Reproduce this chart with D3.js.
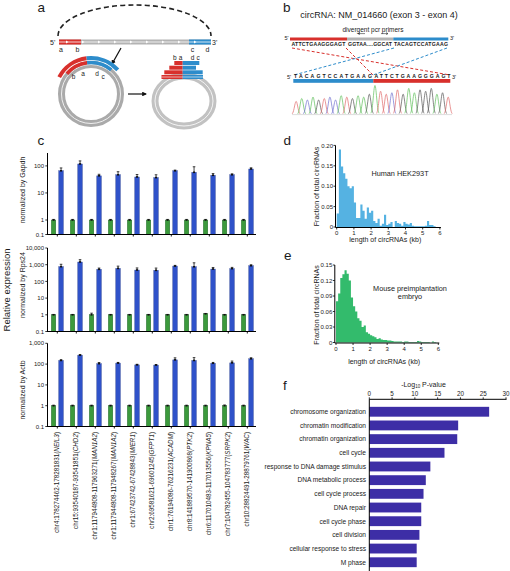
<!DOCTYPE html>
<html><head><meta charset="utf-8">
<script src="https://cdn.jsdelivr.net/npm/d3@7"></script>
<style>body{margin:0;background:#fff}svg{display:block}text{font-family:"Liberation Sans",Arial,sans-serif;fill:#1a1a1a}</style>
</head><body><svg id="c" width="510" height="571"></svg>
<script>
// ---------------- DATA ----------------
const loci = ["chr4:178274462-178281831","chr15:93540187-93541851","chr1:117944808-117963271","chr1:117944808-117948267","chr1:67423742-67428843","chr2:69581621-69601245","chr1:76194086-76216231","chr8:141889570-141900868","chr6:117010483-117013556","chr7:104782455-104783777","chr10:28824491-28879761"];
const genes = ["NEIL3","CHD2","MAN1A2","MAN1A2","MIER1","GFPT1","ACADM","PTK2","KPNA5","SRPK2","WAC"];
const gapdhCtrl = [1,1,1,1,1,1,1,1,1,1,1];
const gapdhCtrlErr = [0.05,0.05,0.05,0.05,0.05,0.05,0.05,0.05,0.05,0.05,0.05];
const gapdhCirc = [66,118,43,47,39,37,66,58,45,47,77];
const gapdhCircErr = [18,35,6,14,9,10,4,35,7,4,8];
const rps24Ctrl = [1,1,1,1,1,1,1,1,1.15,1,1];
const rps24CtrlErr = [0.05,0.05,0.25,0.05,0.05,0.05,0.05,0.05,0.05,0.05,0.05];
const rps24Circ = [760,1450,530,600,480,460,830,750,550,580,870];
const rps24CircErr = [300,550,100,220,160,170,80,550,130,110,120];
const actbCtrl = [1,1,1,1,1,1,1,1,1,1,1];
const actbCtrlErr = [0.05,0.05,0.05,0.05,0.05,0.05,0.05,0.05,0.05,0.08,0.05];
const actbCirc = [150,270,105,112,92,90,160,150,110,115,180];
const actbCircErr = [12,15,14,8,6,5,40,55,10,25,22];
const gapdhTicks = [0.1,1,10,100];
const rps24Ticks = [0.1,1,10,100,1000,10000];
const actbTicks = [0.1,1,10,100,1000];

const binWidth = 0.125;
const hekFraction = [0.033,0.19,0.148,0.132,0.118,0.10,0.095,0.10,0.06,0.022,0.022,0.055,0.04,0.02,0.048,0.035,0.04,0.015,0.01,0.02,0.003,0.008,0.03,0.005,0.008,0.012,0,0.015,0.01,0.008,0.003,0.012,0.008,0.006,0.01,0.003,0.002,0.002,0.002,0.002,0.002,0.003,0.015,0.005,0.005,0.002,0,0];
const mouseFraction = [0.08,0.095,0.125,0.132,0.14,0.133,0.12,0.087,0.07,0.06,0.047,0.042,0.03,0.033,0.02,0.017,0.014,0.012,0.01,0.007,0.008,0.006,0.005,0.005,0.004,0.004,0.003,0.002,0.002,0.002,0.002,0.001,0.002,0.002,0.001,0.001,0.001,0.001,0.003,0.002,0.001,0.001,0.001,0.001,0,0.002,0.001,0];
const hekTicksY = [0,0.05,0.10,0.15,0.20];
const mouseTicksY = [0,0.03,0.06,0.09,0.12,0.15];
const lengthTicks = [0,1,2,3,4,5,6];

const goTerms = ["chromosome organization","chromatin modification","chromatin organization","cell cycle","response to DNA damage stimulus","DNA metabolic process","cell cycle process","DNA repair","cell cycle phase","cell division","cellular response to stress","M phase"];
const goNegLogP = [26.3,19.5,19.3,16.5,13.4,12.4,11.9,11.4,11.4,11.0,10.4,10.4];
const goTicks = [0,5,10,15,20,25,30];

const seqBases = "TACAGTCCATGAAGATTCTGAAGGGAGT";
const seqPeaks = [0.45,0.55,0.5,0.6,0.5,0.55,0.6,0.5,0.65,0.6,0.55,0.65,0.6,0.7,1.0,0.8,0.7,0.75,0.85,0.7,0.9,0.75,0.85,0.8,0.9,0.7,0.75,0.6];

// ---------------- DRAW ----------------
const svg = d3.select("#c");
svg.append("rect").attr("width",510).attr("height",571).attr("fill","#fff");
const RED="#d8302c", BLUE="#2d8ccb", GRAY="#b3b3b3";

function txt(g,x,y,s,size,anchor){
  return g.append("text").attr("x",x).attr("y",y).attr("font-size",size).attr("text-anchor",anchor||"start").attr("fill","#1a1a1a").text(s);
}
// panel letters
[["a",37.5,11.5],["b",283,12],["c",37.5,145],["d",283.5,145],["e",284,259.5],["f",283,390]].forEach(d=>txt(svg,d[1],d[2],d[0],13.5));

// ---------- Panel a ----------
const ga = svg.append("g");
ga.append("path").attr("d","M58,36 A76.5,31 0 0 1 211,36").attr("fill","none").attr("stroke","#222").attr("stroke-width",1.6).attr("stroke-dasharray","5,3.2");
ga.append("rect").attr("x",59).attr("y",39.5).attr("width",152).attr("height",5).attr("fill",GRAY);
ga.append("rect").attr("x",59).attr("y",39.5).attr("width",22).attr("height",5).attr("fill",RED);
ga.append("rect").attr("x",189).attr("y",39.5).attr("width",22).attr("height",5).attr("fill",BLUE);
ga.append("line").attr("x1",59).attr("x2",211).attr("y1",42).attr("y2",42).attr("stroke","#fff").attr("stroke-width",0.8);
for(let x=66;x<210;x+=16){ga.append("path").attr("d",`M${x},40.6 L${x+2.5},42 L${x},43.4Z`).attr("fill","#fff");}
txt(ga,50,44.5,"5'",7); txt(ga,212,44.5,"3'",7);
[["a",61],["b",77.5],["c",192.5],["d",207.5]].forEach(d=>txt(ga,d[1],52,d[0],7,"middle"));
const defs=svg.append("defs");
defs.append("marker").attr("id","ah").attr("viewBox","0 0 10 10").attr("refX",8).attr("refY",5).attr("markerWidth",4).attr("markerHeight",4).attr("orient","auto")
  .append("path").attr("d","M0,0 L10,5 L0,10Z").attr("fill","#111");
ga.append("line").attr("x1",121).attr("y1",48).attr("x2",112).attr("y2",64).attr("stroke","#111").attr("stroke-width",1.2).attr("marker-end","url(#ah)");
ga.append("line").attr("x1",128).attr("y1",94).attr("x2",146).attr("y2",94).attr("stroke","#111").attr("stroke-width",1.2).attr("marker-end","url(#ah)");
// left circle
const cx1=91, cy1=94;
ga.append("circle").attr("cx",cx1).attr("cy",cy1).attr("r",29.5).attr("fill","none").attr("stroke","#aaa").attr("stroke-width",7);
ga.append("circle").attr("cx",cx1).attr("cy",cy1).attr("r",29.5).attr("fill","none").attr("stroke","#fff").attr("stroke-width",0.8);
const arc=d3.arc();
const deg=Math.PI/180;
[[36,4,-62,-7,RED],[36,4,-7,48,BLUE],[31.5,3.6,-50,-7,RED],[31.5,3.6,-7,40,BLUE]].forEach(a=>{
  ga.append("path").attr("transform",`translate(${cx1},${cy1})`).attr("d",arc({innerRadius:a[0]-a[1]/2,outerRadius:a[0]+a[1]/2,startAngle:a[2]*deg,endAngle:a[3]*deg})).attr("fill",a[4]);
});
[["b",73.5,79],["a",83,75.5],["d",97,75.5],["c",103,79]].forEach(d=>txt(ga,d[1],d[2],d[0],6.5,"middle"));
// right circle
const cx2=184, cy2=101;
ga.append("ellipse").attr("cx",cx2).attr("cy",cy2).attr("rx",29).attr("ry",25).attr("fill","none").attr("stroke","#c2c2c2").attr("stroke-width",7);
ga.append("ellipse").attr("cx",cx2).attr("cy",cy2).attr("rx",29).attr("ry",25).attr("fill","none").attr("stroke","#fff").attr("stroke-width",0.8);
[[61,174.3,199.3],[65.7,169.3,196],[70.3,164.3,202.7],[75,161.5,203]].forEach(r=>{
  ga.append("rect").attr("x",r[1]).attr("y",r[0]).attr("width",182.7-r[1]).attr("height",4).attr("fill",RED);
  ga.append("rect").attr("x",182.7).attr("y",r[0]).attr("width",r[2]-182.7).attr("height",4).attr("fill",BLUE);
});
ga.append("line").attr("x1",161.5).attr("x2",203).attr("y1",77).attr("y2",77).attr("stroke","#fff").attr("stroke-width",0.6);
[["b",174.8],["a",180.5],["d",192.5],["c",198]].forEach(d=>txt(ga,d[1],60,d[0],6.5,"middle"));

// ---------- Panel b ----------
const gb = svg.append("g");
txt(gb,379,18.3,"circRNA: NM_014660 (exon 3 - exon 4)",9,"middle");
txt(gb,373,31.5,"divergent pcr primers",6.5,"middle");
gb.append("path").attr("d","M365,33.6 L358,33.6 M358,33.6 l2,-1 M358,33.6 l2,1").attr("stroke","#333").attr("stroke-width",0.6).attr("fill","none");
gb.append("path").attr("d","M381,33.6 L388,33.6 l-2,-1 M388,33.6 l-2,1").attr("stroke","#333").attr("stroke-width",0.6).attr("fill","none");
gb.append("rect").attr("x",290).attr("y",37.5).attr("width",57).attr("height",3).attr("fill",RED);
gb.append("rect").attr("x",347).attr("y",37.5).attr("width",46.3).attr("height",3).attr("fill",GRAY);
gb.append("rect").attr("x",393.3).attr("y",37.5).attr("width",55).attr("height",3).attr("fill",BLUE);
txt(gb,284.5,40.3,"5'",5.5); txt(gb,450,40.3,"3'",5.5);
function seqText(g,x,y,w,s,col){g.append("text").attr("x",x).attr("y",y).attr("font-size",5.2).attr("font-weight","bold").attr("textLength",w).attr("lengthAdjust","spacing").attr("fill",col).text(s);}
seqText(gb,291.5,46,54,"ATTCTGAAGGGAGT",RED);
seqText(gb,348,46,44,"GGTAA....GGCAT","#aaa");
seqText(gb,394,46,54,"TACAGTCCATGAAG",BLUE);
[[292,48,450,75,RED],[346,48,373,75,RED],[394,48,294,75,BLUE],[447,48,373,75,BLUE]].forEach(l=>{
  gb.append("line").attr("x1",l[0]).attr("y1",l[1]).attr("x2",l[2]).attr("y2",l[3]).attr("stroke",l[4]).attr("stroke-width",1).attr("stroke-dasharray","3,2");
});
seqText(gb,294,78,78,"TACAGTCCATGAAG",BLUE);
seqText(gb,374.5,78,76,"ATTCTGAAGGGAGT",RED);
txt(gb,287,78.5,"5'",5.5); txt(gb,452,78.5,"3'",5.5);
gb.append("rect").attr("x",293.3).attr("y",79).attr("width",80).attr("height",3.8).attr("fill",BLUE);
gb.append("rect").attr("x",373.3).attr("y",79).attr("width",77).attr("height",3.8).attr("fill",RED);
// chromatogram
const baseCol={A:"#5fbf5a",C:"#6f6fcf",G:"#555",T:"#e06a6a"};
const cxScale=d3.scaleBand().domain(d3.range(seqBases.length)).range([293.3,451]);
const hScale=d3.scaleLinear().domain([0,1]).range([114.5,85]);
const lineG=d3.line().curve(d3.curveBasis);
seqBases.split("").forEach((b,i)=>{
  const c=cxScale(i)+cxScale.bandwidth()/2, h=seqPeaks[i];
  const pts=d3.range(-4,4.01,0.5).map(dx=>[c+dx, hScale(h*Math.exp(-dx*dx/(2*1.6*1.6)))]);
  gb.append("path").attr("d",lineG(pts)).attr("fill","none").attr("stroke",baseCol[b]).attr("stroke-width",0.7);
});
gb.append("line").attr("x1",292).attr("x2",452).attr("y1",114.6).attr("y2",114.6).attr("stroke","#bbb").attr("stroke-width",0.5);

// ---------- Panel c ----------
const xC = d3.scaleBand().domain(loci).range([47.8,256.8]);
const xIn = d3.scaleBand().domain(["ctrl","circ"]).range([2,17]).paddingInner(0.4).paddingOuter(0.2);
const fmt = d3.format(",");
function drawC(dom,rng,top,ticks,ctrl,ctrlErr,circ,circErr){
  const y=d3.scaleLog().domain(dom).range(rng);
  const g=svg.append("g");
  const base=rng[0];
  ticks.forEach(t=>{
    g.append("line").attr("x1",45.3).attr("x2",47.5).attr("y1",y(t)).attr("y2",y(t)).attr("stroke","#000").attr("stroke-width",0.8);
    g.append("text").attr("x",44).attr("y",y(t)).attr("dy","0.35em").attr("font-size",6).attr("text-anchor","end").attr("fill","#1a1a1a").text(fmt(t));
  });
  loci.forEach((l,i)=>{
    const x0=xC(l);
    [["ctrl",ctrl,ctrlErr,"#3c9a3c","#22602a"],["circ",circ,circErr,"#2f52c9","#1d348a"]].forEach(s=>{
      const v=s[1][i], e=s[2][i], bx=x0+xIn(s[0]), bw=xIn.bandwidth();
      g.append("rect").attr("x",bx).attr("y",y(v)).attr("width",bw).attr("height",base-y(v)).attr("fill",s[3]).attr("stroke",s[4]).attr("stroke-width",0.4);
      const cx=bx+bw/2;
      g.append("line").attr("x1",cx).attr("x2",cx).attr("y1",y(v)).attr("y2",y(v+e)).attr("stroke","#111").attr("stroke-width",0.8);
      g.append("line").attr("x1",cx-1.3).attr("x2",cx+1.3).attr("y1",y(v+e)).attr("y2",y(v+e)).attr("stroke","#111").attr("stroke-width",0.8);
      g.append("rect").attr("x",cx-1).attr("y",y(v)-0.8).attr("width",2).attr("height",1.6).attr("fill","#111");
    });
    const tx=x0+xC.bandwidth()/2;
    g.append("line").attr("x1",tx).attr("x2",tx).attr("y1",base).attr("y2",base+2).attr("stroke","#000").attr("stroke-width",0.9);
  });
  g.append("line").attr("x1",47.5).attr("x2",47.5).attr("y1",y(top)).attr("y2",base).attr("stroke","#000").attr("stroke-width",1);
  g.append("line").attr("x1",47).attr("x2",256).attr("y1",base).attr("y2",base).attr("stroke","#000").attr("stroke-width",1.2);
  return y;
}
drawC([0.1,1,300],[234.5,220,153],300,gapdhTicks,gapdhCtrl,gapdhCtrlErr,gapdhCirc,gapdhCircErr);
drawC([0.1,10000],[331.5,248],10000,rps24Ticks,rps24Ctrl,rps24CtrlErr,rps24Circ,rps24CircErr);
drawC([0.1,1000],[426.5,343.3],1000,actbTicks,actbCtrl,actbCtrlErr,actbCirc,actbCircErr);
function vtext(x,y,s,size){return svg.append("text").attr("transform",`translate(${x},${y}) rotate(-90)`).attr("font-size",size).attr("text-anchor","middle").attr("fill","#1a1a1a").text(s);}
vtext(25,190,"normalized by Gapdh",7);
vtext(25,285,"normalized by Rps24",7);
vtext(25,390,"normalized by Actb",7);
vtext(9.5,290,"Relative expression",9.5);
loci.forEach((l,i)=>{
  const tx=xC(l)+xC.bandwidth()/2+2;
  const t=svg.append("text").attr("transform",`translate(${tx},432) rotate(-90)`).attr("font-size",6.3).attr("text-anchor","end").attr("fill","#1a1a1a");
  t.append("tspan").text(l+"(");
  t.append("tspan").attr("font-style","italic").text(genes[i]);
  t.append("tspan").text(")");
});

// ---------- Panels d & e ----------
function drawHist(vals,color,x0px,x1px,y0px,y1px,ymax,yticks,ylabelFmt,titleY,xlabY,annot){
  const g=svg.append("g");
  const x=d3.scaleLinear().domain([0,6]).range([x0px,x1px]);
  const y=d3.scaleLinear().domain([0,ymax]).range([y0px,y1px]);
  const pts=vals.map((v,i)=>[i*binWidth,v]).concat([[vals.length*binWidth,0]]);
  const area=d3.area().x(d=>x(d[0])).y0(y0px).y1(d=>y(d[1])).curve(d3.curveStepAfter);
  g.append("path").attr("d",area(pts)).attr("fill",color).attr("stroke","none");
  const ax=x0px-1.2;
  g.append("line").attr("x1",ax).attr("x2",ax).attr("y1",y1px).attr("y2",y0px+0.5).attr("stroke","#000").attr("stroke-width",1);
  g.append("line").attr("x1",ax).attr("x2",x1px+1).attr("y1",y0px+0.5).attr("y2",y0px+0.5).attr("stroke","#000").attr("stroke-width",1);
  yticks.forEach(t=>{
    g.append("line").attr("x1",ax-2).attr("x2",ax).attr("y1",y(t)).attr("y2",y(t)).attr("stroke","#000").attr("stroke-width",0.8);
    g.append("text").attr("x",ax-2.5).attr("y",y(t)).attr("dy","0.35em").attr("font-size",6).attr("text-anchor","end").attr("fill","#1a1a1a").text(t===0?"0":ylabelFmt(t));
  });
  lengthTicks.forEach(t=>{
    g.append("line").attr("x1",x(t)).attr("x2",x(t)).attr("y1",y0px+0.5).attr("y2",y0px+2.5).attr("stroke","#000").attr("stroke-width",0.8);
    g.append("text").attr("x",x(t)).attr("y",y0px+8).attr("font-size",6).attr("text-anchor","middle").attr("fill","#1a1a1a").text(t);
  });
  g.append("text").attr("x",(x0px+x1px)/2-3).attr("y",xlabY).attr("font-size",7).attr("text-anchor","middle").attr("fill","#1a1a1a").text("length of circRNAs (kb)");
  g.append("text").attr("transform",`translate(318.5,${titleY}) rotate(-90)`).attr("font-size",7).attr("text-anchor","middle").attr("fill","#1a1a1a").text("Fraction of total circRNAs");
  annot.forEach(a=>g.append("text").attr("x",a[0]).attr("y",a[1]).attr("font-size",7.3).attr("text-anchor","middle").attr("fill","#1a1a1a").text(a[2]));
}
drawHist(hekFraction,"#55b2e2",336.7,439.9,227,145.4,0.20,hekTicksY,d3.format(".2f"),186.5,242,[[400,176,"Human HEK293T"]]);
drawHist(mouseFraction,"#33bb6c",336,438.3,342.5,265,0.15,mouseTicksY,d3.format(".2f"),305,364,[[410,290.5,"Mouse preimplantation"],[410,299,"embryo"]]);

// ---------- Panel f ----------
const gf=svg.append("g");
const xf=d3.scaleLinear().domain([0,30]).range([369.3,506]);
const yf=d3.scaleBand().domain(goTerms).range([403,571]).padding(0.28);
goTerms.forEach((t,i)=>{
  gf.append("rect").attr("x",xf(0)).attr("y",yf(t)).attr("width",xf(goNegLogP[i])-xf(0)).attr("height",yf.bandwidth()).attr("fill","#3d2ea6");
  gf.append("text").attr("x",366).attr("y",yf(t)+yf.bandwidth()/2).attr("dy","0.35em").attr("font-size",6.6).attr("text-anchor","end").attr("fill","#1a1a1a").text(t);
});
gf.append("line").attr("x1",369.3).attr("x2",369.3).attr("y1",399.3).attr("y2",571).attr("stroke","#000").attr("stroke-width",1);
gf.append("line").attr("x1",369.3).attr("x2",506.5).attr("y1",399.3).attr("y2",399.3).attr("stroke","#000").attr("stroke-width",1);
goTicks.forEach(t=>{
  gf.append("line").attr("x1",xf(t)).attr("x2",xf(t)).attr("y1",397.3).attr("y2",399.3).attr("stroke","#000").attr("stroke-width",0.8);
  gf.append("text").attr("x",xf(t)).attr("y",395.5).attr("font-size",6.3).attr("text-anchor","middle").attr("fill","#1a1a1a").text(t);
});
const tt=gf.append("text").attr("x",423.5).attr("y",386.5).attr("font-size",7).attr("text-anchor","middle").attr("fill","#1a1a1a");
tt.append("tspan").text("-Log");
tt.append("tspan").attr("font-size",4.5).attr("dy",1.5).text("10");
tt.append("tspan").attr("dy",-1.5).text(" P-value");
</script></body></html>
